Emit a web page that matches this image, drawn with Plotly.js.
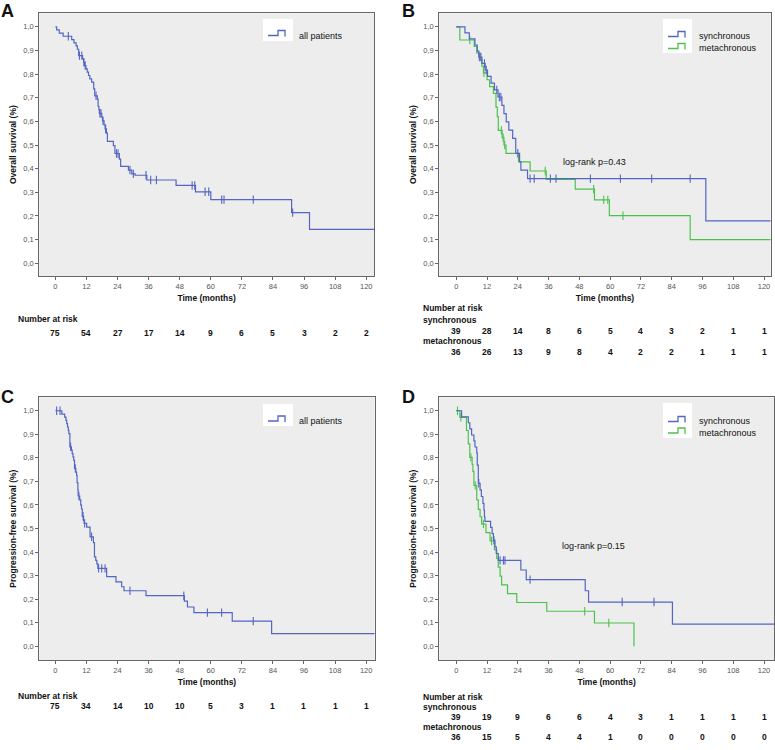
<!DOCTYPE html>
<html><head><meta charset="utf-8">
<script src="https://cdn.plot.ly/plotly-3.0.1.min.js"></script>
<style>html,body{margin:0;padding:0;background:#fff}#chart{width:775px;height:750px}</style>
</head><body><div id="chart"></div>
<script>
// ---------------- DATA ----------------
const monthTicks = [0, 12, 24, 36, 48, 60, 72, 84, 96, 108, 120];
const survTicks = [0, 0.1, 0.2, 0.3, 0.4, 0.5, 0.6, 0.7, 0.8, 0.9, 1.0];
const survTickText = ['0,0', '0,1', '0,2', '0,3', '0,4', '0,5', '0,6', '0,7', '0,8', '0,9', '1,0'];

// A: overall survival, all patients
const osAllTime = [0, 0.5, 1.5, 3.0, 6.3, 7.2, 8.0, 8.5, 9.0, 10.5, 10.9, 11.3, 11.8, 12.3, 12.8, 13.3, 14.0, 14.8, 15.2, 16.2, 16.5, 16.8, 17.0, 17.9, 18.2, 18.8, 19.2, 19.7, 20.1, 22.4, 23.0, 24.7, 25.2, 28.2, 29.5, 30.8, 35.3, 46.6, 54.1, 60.0, 91.2, 98.1, 123];
const osAllSurv = [1.000, 0.987, 0.973, 0.960, 0.946, 0.932, 0.919, 0.905, 0.878, 0.864, 0.850, 0.836, 0.822, 0.808, 0.794, 0.780, 0.766, 0.737, 0.708, 0.694, 0.664, 0.649, 0.634, 0.618, 0.602, 0.585, 0.568, 0.550, 0.515, 0.497, 0.464, 0.440, 0.410, 0.394, 0.378, 0.372, 0.352, 0.329, 0.302, 0.269, 0.214, 0.143, 0.143];
const osAllCens = [5.0, 9.3, 10.2, 11.0, 11.5, 15.7, 17.2, 17.6, 18.4, 19.4, 23.6, 24.2, 28.8, 30.1, 35.0, 36.8, 39.0, 52.8, 53.8, 57.8, 59.2, 64.2, 65.1, 76.4, 91.6];

// B: overall survival by group
const osSyncTime = [0, 3.4, 5.1, 7.3, 8.2, 8.8, 10.0, 11.3, 12.2, 13.6, 14.9, 16.3, 17.8, 18.6, 19.5, 20.5, 22.0, 23.2, 24.7, 25.2, 27.8, 97.3, 122.6];
const osSyncSurv = [1.000, 0.974, 0.949, 0.923, 0.897, 0.872, 0.845, 0.817, 0.790, 0.762, 0.733, 0.703, 0.668, 0.633, 0.598, 0.563, 0.528, 0.465, 0.430, 0.394, 0.358, 0.179, 0.179];
const osSyncCens = [9.0, 9.6, 11.0, 11.7, 15.8, 16.8, 17.4, 24.0, 28.8, 30.4, 36.7, 38.9, 52.3, 64.0, 76.2, 91.2];
const osMetaTime = [0, 1.4, 7.0, 8.0, 9.3, 10.0, 10.6, 12.0, 13.0, 14.5, 15.5, 16.0, 16.4, 17.9, 18.6, 19.4, 24.3, 28.8, 35.1, 46.4, 53.9, 59.7, 91.2, 122.6];
const osMetaSurv = [1.000, 0.944, 0.917, 0.889, 0.861, 0.833, 0.805, 0.776, 0.747, 0.718, 0.660, 0.620, 0.562, 0.531, 0.500, 0.465, 0.429, 0.390, 0.355, 0.313, 0.268, 0.201, 0.100, 0.100];
const osMetaCens = [5.3, 10.8, 17.6, 18.3, 18.9, 34.7, 53.6, 57.5, 59.1, 65.0];

// C: progression-free survival, all patients
const pfsAllTime = [0, 2.5, 3.6, 4.1, 4.4, 4.7, 5.0, 5.2, 5.6, 6.2, 6.5, 6.8, 7.1, 7.4, 7.9, 8.2, 8.4, 8.7, 8.8, 9.4, 9.8, 10.1, 10.4, 10.9, 11.1, 12.1, 13.4, 14.7, 15.1, 15.6, 16.0, 16.4, 19.8, 23.4, 25.6, 26.5, 35.0, 49.8, 51.0, 53.5, 68.3, 83.5, 123.3];
const pfsAllSurv = [1.000, 0.986, 0.973, 0.959, 0.945, 0.931, 0.917, 0.903, 0.847, 0.833, 0.818, 0.804, 0.789, 0.755, 0.740, 0.725, 0.695, 0.665, 0.638, 0.622, 0.599, 0.583, 0.552, 0.535, 0.522, 0.506, 0.465, 0.440, 0.380, 0.365, 0.350, 0.331, 0.296, 0.274, 0.253, 0.236, 0.215, 0.192, 0.167, 0.143, 0.107, 0.054, 0.054];
const pfsAllCens = [0.5, 1.8, 5.9, 7.7, 9.1, 10.7, 11.3, 14.0, 16.7, 17.9, 19.2, 28.8, 49.6, 58.7, 64.2, 76.4];

// D: progression-free survival by group
const pfsSyncTime = [0, 2.1, 4.7, 5.3, 6.0, 6.9, 7.3, 8.0, 8.2, 8.6, 9.3, 9.8, 10.4, 10.8, 11.0, 11.2, 13.4, 14.0, 14.5, 15.1, 15.6, 16.4, 25.2, 27.3, 50.3, 51.6, 84.3, 123.9];
const pfsSyncSurv = [1.000, 0.974, 0.949, 0.923, 0.897, 0.872, 0.846, 0.821, 0.769, 0.692, 0.664, 0.636, 0.607, 0.578, 0.549, 0.530, 0.505, 0.478, 0.451, 0.422, 0.394, 0.365, 0.324, 0.283, 0.236, 0.188, 0.094, 0.094];
const pfsSyncCens = [8.8, 14.7, 17.1, 18.4, 19.0, 28.8, 64.7, 77.1];
const pfsMetaTime = [0, 1.4, 4.0, 4.7, 5.3, 6.2, 6.5, 6.9, 8.0, 8.6, 9.3, 9.9, 11.6, 13.2, 14.9, 15.8, 16.4, 17.1, 17.7, 20.0, 23.6, 35.3, 53.9, 69.3];
const pfsMetaSurv = [1.000, 0.972, 0.916, 0.859, 0.802, 0.772, 0.743, 0.683, 0.622, 0.581, 0.550, 0.519, 0.483, 0.447, 0.410, 0.373, 0.336, 0.298, 0.261, 0.224, 0.186, 0.149, 0.099, 0.000];
const pfsMetaCens = [0.5, 1.8, 5.7, 7.4, 10.6, 13.8, 50.1, 59.5];

// Number at risk
const riskOsAll = [75, 54, 27, 17, 14, 9, 6, 5, 3, 2, 2];
const riskOsSync = [39, 28, 14, 8, 6, 5, 4, 3, 2, 1, 1];
const riskOsMeta = [36, 26, 13, 9, 8, 4, 2, 2, 1, 1, 1];
const riskPfsAll = [75, 34, 14, 10, 10, 5, 3, 1, 1, 1, 1];
const riskPfsSync = [39, 19, 9, 6, 6, 4, 3, 1, 1, 1, 1];
const riskPfsMeta = [36, 15, 5, 4, 4, 1, 0, 0, 0, 0, 0];

const pOs = 'log-rank p=0.43';
const pPfs = 'log-rank p=0.15';

// ---------------- STYLE / LAYOUT ----------------
const W = 775, H = 750;
const px = v => v / W;
const py = v => 1 - v / H;
const FONT = 'Liberation Sans, Arial, sans-serif';
const BLUE = '#5266c2';
const GREEN = '#4cc24c';

function survAt(t, s, c) {
  let v = s[0];
  for (let i = 0; i < t.length; i++) { if (t[i] <= c) v = s[i]; }
  return v;
}
function curve(t, s, color, xa, ya) {
  return {type: 'scatter', mode: 'lines', x: t, y: s, xaxis: xa, yaxis: ya,
    line: {shape: 'hv', color: color, width: 1.2}, hoverinfo: 'skip', showlegend: false};
}
function cens(t, s, c, color, xa, ya) {
  return {type: 'scatter', mode: 'markers', x: c, y: c.map(v => survAt(t, s, v)), xaxis: xa, yaxis: ya,
    marker: {symbol: 'line-ns', size: 6, line: {color: color, width: 1.1}}, hoverinfo: 'skip', showlegend: false};
}

const traces = [
  curve(osAllTime, osAllSurv, BLUE, 'x', 'y'), cens(osAllTime, osAllSurv, osAllCens, BLUE, 'x', 'y'),
  curve(osMetaTime, osMetaSurv, GREEN, 'x2', 'y2'), cens(osMetaTime, osMetaSurv, osMetaCens, GREEN, 'x2', 'y2'),
  curve(osSyncTime, osSyncSurv, BLUE, 'x2', 'y2'), cens(osSyncTime, osSyncSurv, osSyncCens, BLUE, 'x2', 'y2'),
  curve(pfsAllTime, pfsAllSurv, BLUE, 'x3', 'y3'), cens(pfsAllTime, pfsAllSurv, pfsAllCens, BLUE, 'x3', 'y3'),
  curve(pfsMetaTime, pfsMetaSurv, GREEN, 'x4', 'y4'), cens(pfsMetaTime, pfsMetaSurv, pfsMetaCens, GREEN, 'x4', 'y4'),
  curve(pfsSyncTime, pfsSyncSurv, BLUE, 'x4', 'y4'), cens(pfsSyncTime, pfsSyncSurv, pfsSyncCens, BLUE, 'x4', 'y4'),
];

function xAxis(x0, x1, y0, y1, range, anchor) {
  return {domain: [px(x0), px(x1)], range: range, anchor: anchor,
    tickvals: monthTicks, ticks: 'outside', ticklen: 3, tickcolor: '#666', tickwidth: 1,
    showline: true, mirror: true, linecolor: '#666', linewidth: 1,
    showgrid: false, zeroline: false, tickfont: {family: FONT, size: 7.5, color: '#555'},
    title: {text: '<b>Time (months)</b>', font: {family: FONT, size: 8.5, color: '#111'}, standoff: 5},
    fixedrange: true};
}
function yAxis(y0, y1, range, anchor, title) {
  return {domain: [py(y1), py(y0)], range: range, anchor: anchor,
    tickvals: survTicks, ticktext: survTickText, ticks: 'outside', ticklen: 3, tickcolor: '#666', tickwidth: 1,
    showline: true, mirror: true, linecolor: '#666', linewidth: 1,
    showgrid: false, zeroline: false, tickfont: {family: FONT, size: 7.5, color: '#555'},
    title: {text: '<b>' + title + '</b>', font: {family: FONT, size: 8.5, color: '#111'}, standoff: 5},
    fixedrange: true};
}

const annotations = [];
const shapes = [];
function txt(text, x, y, size, bold, xanchor, extra) {
  annotations.push(Object.assign({xref: 'paper', yref: 'paper', x: px(x), y: py(y),
    text: bold ? '<b>' + text + '</b>' : text, showarrow: false,
    xanchor: xanchor || 'left', yanchor: 'middle',
    font: {family: FONT, size: size, color: '#111'}}, extra || {}));
}
function risk(values, xref, y) {
  values.forEach((v, i) => annotations.push({xref: xref, yref: 'paper', x: monthTicks[i], y: py(y),
    text: '<b>' + v + '</b>', showarrow: false, xanchor: 'center', yanchor: 'middle',
    font: {family: FONT, size: 8.5, color: '#111'}}));
}
function legendBox(x0, y0, x1, y1) {
  shapes.push({type: 'rect', xref: 'paper', yref: 'paper', x0: px(x0), x1: px(x1), y0: py(y1), y1: py(y0),
    fillcolor: '#ffffff', line: {width: 0}, layer: 'above'});
}
function legendGlyph(x0, yc, color) {
  const yb = yc + 2.5, yt = yc - 2.5;
  const p = 'M' + px(x0) + ',' + py(yb) + ' L' + px(x0 + 10) + ',' + py(yb) + ' L' + px(x0 + 10) + ',' + py(yt) +
    ' L' + px(x0 + 17) + ',' + py(yt) + ' L' + px(x0 + 17) + ',' + py(yb + 1);
  shapes.push({type: 'path', xref: 'paper', yref: 'paper', path: p, line: {color: color, width: 1.3}, layer: 'above'});
}

// Panel letters
const letterOpts = {yanchor: 'top', borderpad: 0};
txt('A', 0, 0, 18, true, 'left', letterOpts);
txt('B', 401, 0, 18, true, 'left', letterOpts);
txt('C', 0, 386, 18, true, 'left', letterOpts);
txt('D', 401, 386, 18, true, 'left', letterOpts);

// Legends
legendBox(263, 19, 293, 41); legendGlyph(268, 33, BLUE); txt('all patients', 297, 36, 9, false);
legendBox(663, 19, 692, 53); legendGlyph(668, 34, BLUE); legendGlyph(668, 46, GREEN);
txt('synchronous', 697, 36, 9, false); txt('metachronous', 697, 48, 9, false);
legendBox(263, 404, 293, 426); legendGlyph(268, 418.5, BLUE); txt('all patients', 297, 421, 9, false);
legendBox(663, 403, 692, 438); legendGlyph(668, 419, BLUE); legendGlyph(668, 430.5, GREEN);
txt('synchronous', 697, 421, 9, false); txt('metachronous', 697, 433, 9, false);

// log-rank
annotations.push({xref: 'x2', yref: 'y2', x: 41, y: 0.43, text: pOs, showarrow: false, xanchor: 'left', yanchor: 'middle', font: {family: FONT, size: 9, color: '#111'}});
annotations.push({xref: 'x4', yref: 'y4', x: 40.6, y: 0.426, text: pPfs, showarrow: false, xanchor: 'left', yanchor: 'middle', font: {family: FONT, size: 9, color: '#111'}});

// Number at risk
txt('Number at risk', 16, 319, 8.5, true); risk(riskOsAll, 'x', 333);
txt('Number at risk', 421, 308, 8.5, true); txt('synchronous', 421, 320, 8.5, true); risk(riskOsSync, 'x2', 331);
txt('metachronous', 421, 341, 8.5, true); risk(riskOsMeta, 'x2', 352);
txt('Number at risk', 16, 696, 8.5, true); risk(riskPfsAll, 'x3', 706);
txt('Number at risk', 421, 697, 8.5, true); txt('synchronous', 421, 707, 8.5, true); risk(riskPfsSync, 'x4', 717);
txt('metachronous', 421, 727, 8.5, true); risk(riskPfsMeta, 'x4', 737);

const layout = {
  width: W, height: H, margin: {l: 0, r: 0, t: 0, b: 0},
  paper_bgcolor: '#ffffff', plot_bgcolor: '#ededed', showlegend: false,
  font: {family: FONT},
  xaxis: xAxis(39.3, 374, 13.3, 276, [-6.2, 123], 'y'),
  yaxis: yAxis(13.3, 276, [-0.054, 1.057], 'x', 'Overall survival (%)'),
  xaxis2: xAxis(439.3, 770.7, 13.3, 276, [-6.6, 122.6], 'y2'),
  yaxis2: yAxis(13.3, 276, [-0.054, 1.057], 'x2', 'Overall survival (%)'),
  xaxis3: xAxis(39.3, 374.7, 397.3, 660, [-6.2, 123.3], 'y3'),
  yaxis3: yAxis(397.3, 660, [-0.058, 1.057], 'x3', 'Progression-free survival (%)'),
  xaxis4: xAxis(439.3, 774, 397.3, 660, [-6.6, 123.9], 'y4'),
  yaxis4: yAxis(397.3, 660, [-0.058, 1.057], 'x4', 'Progression-free survival (%)'),
  annotations: annotations, shapes: shapes
};

Plotly.newPlot('chart', traces, layout, {staticPlot: true, displayModeBar: false});
</script>
</body></html>
